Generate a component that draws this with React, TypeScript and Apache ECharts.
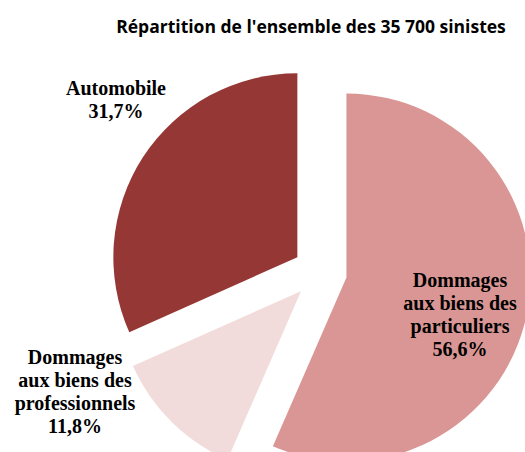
import React, { useEffect, useRef } from "react";
import * as echarts from "echarts";

const categories = [
  "Dommages\naux biens des\nparticuliers",
  "Dommages\naux biens des\nprofessionnels",
  "Automobile",
];
const values = [56.6, 11.8, 31.7];
const colors = ["#D99694", "#F2DCDB", "#953735"];
const titleText = "Répartition de l'ensemble des 35 700 sinistes";
const labelPositions = [
  [460, 314],
  [75, 391],
  [116, 99],
];

const fmt = (v: number) => v.toFixed(1).replace(".", ",") + "%";

export default function App() {
  const ref = useRef<HTMLDivElement>(null);
  useEffect(() => {
    if (!ref.current) return;
    const chart = echarts.init(ref.current, undefined, { renderer: "svg" });
    chart.setOption({
      animation: false,
      backgroundColor: "#ffffff",
      title: {
        text: titleText,
        left: 306,
        top: 12,
        textAlign: "center",
        textStyle: {
          fontFamily: "Open Sans",
          fontWeight: "bold",
          fontSize: 17.5,
          color: "#000000",
        },
      },
      graphic: categories.map((name, i) => ({
        type: "text",
        x: labelPositions[i][0],
        y: labelPositions[i][1],
        z: 100,
        silent: true,
        style: {
          text: name + "\n" + fmt(values[i]),
          fontFamily: "Liberation Serif",
          fontWeight: "bold",
          fontSize: 20,
          lineHeight: 23,
          fill: "#000000",
          align: "center",
          verticalAlign: "middle",
        },
      })),
      series: [
        {
          type: "pie",
          z: 1,
          center: [320, 272],
          radius: 184,
          startAngle: 90,
          clockwise: true,
          selectedMode: "multiple",
          selectedOffset: 27,
          emphasis: { disabled: true },
          label: { show: false },
          labelLine: { show: false },
          data: categories.map((name, i) => ({
            name,
            value: values[i],
            selected: true,
            itemStyle: { color: colors[i], borderWidth: 0 },
            select: { itemStyle: { color: colors[i], borderWidth: 0 } },
          })),
        },
      ],
    });
    return () => chart.dispose();
  }, []);
  return (
    <div
      ref={ref}
      style={{ position: "fixed", left: 0, top: 0, width: 525, height: 452 }}
    />
  );
}
